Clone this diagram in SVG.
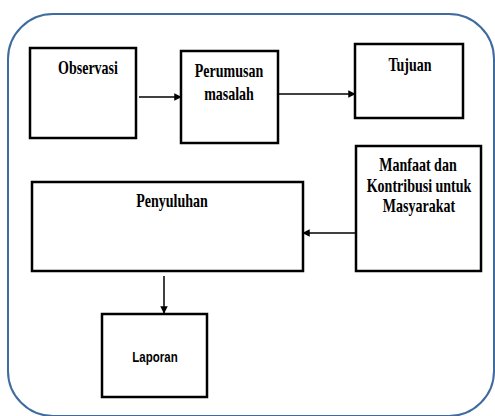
<svg xmlns="http://www.w3.org/2000/svg" width="495" height="416" viewBox="0 0 495 416">
<defs>
<style>
.box{fill:#fff;stroke:#000;stroke-width:2.5}
.t{font-family:"Liberation Serif","Times New Roman",serif;font-weight:bold;font-size:14px;fill:#000;text-anchor:middle}
.s{font-family:"Liberation Sans",Arial,sans-serif;font-weight:bold;font-size:11.5px;fill:#000;text-anchor:middle}
.c{stroke:#000;stroke-width:1.5;fill:none}
</style>
<marker id="ah" viewBox="0 0 10 10" refX="9" refY="5" markerWidth="5" markerHeight="5" orient="auto" markerUnits="strokeWidth">
<path d="M0,0 L10,5 L0,10 z" fill="#000"/>
</marker>
</defs>
<rect width="495" height="416" fill="#fff"/>
<rect x="8" y="14" width="486" height="402" rx="45" ry="45" fill="#fff" stroke="#3f6b9e" stroke-width="2"/>
<g id="connectors">
<line class="c" x1="139" y1="97" x2="181" y2="97" marker-end="url(#ah)"/>
<line class="c" x1="279" y1="94" x2="355" y2="94" marker-end="url(#ah)"/>
<line class="c" x1="355" y1="233" x2="303" y2="233" marker-end="url(#ah)"/>
<line class="c" x1="164" y1="276" x2="164" y2="313" marker-end="url(#ah)"/>
</g>
<g id="observasi">
<rect class="box" x="30" y="48" width="106" height="90"/>
<text class="t" transform="translate(88,74) scale(1,1.4)">Observasi</text>
</g>
<g id="perumusan">
<rect class="box" x="181" y="51" width="97" height="92"/>
<text class="t" transform="translate(229,77) scale(1,1.4)">Perumusan</text>
<text class="t" transform="translate(229,100) scale(1,1.4)">masalah</text>
</g>
<g id="tujuan">
<rect class="box" x="355" y="44" width="108" height="74"/>
<text class="t" transform="translate(410,71) scale(1,1.4)">Tujuan</text>
</g>
<g id="manfaat">
<rect class="box" x="356" y="146" width="125" height="125"/>
<text class="t" transform="translate(418,171) scale(1,1.4)">Manfaat dan</text>
<text class="t" transform="translate(419,192) scale(1,1.4)">Kontribusi untuk</text>
<text class="t" transform="translate(419,212) scale(1,1.4)">Masyarakat</text>
</g>
<g id="penyuluhan">
<rect class="box" x="32" y="182" width="271" height="89"/>
<text class="t" transform="translate(172,207) scale(1,1.4)">Penyuluhan</text>
</g>
<g id="laporan">
<rect class="box" x="102" y="314" width="105" height="83"/>
<text class="s" transform="translate(155,362) scale(1,1.3)">Laporan</text>
</g>
</svg>
